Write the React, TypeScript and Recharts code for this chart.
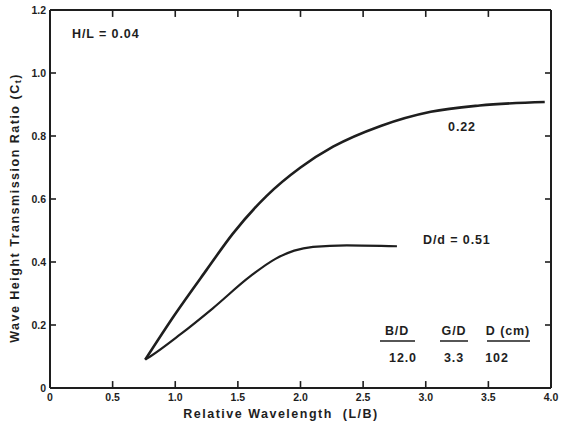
import React from "react";
import { LineChart, Line, XAxis, YAxis, ReferenceLine } from "recharts";

// curves: L/B vs Ct
const upperX = [0.76, 1.0, 1.25, 1.46, 1.73, 2.0, 2.26, 2.64, 3.04, 3.43, 3.95];
const upperY = [0.09, 0.235, 0.375, 0.49, 0.61, 0.7, 0.766, 0.832, 0.877, 0.897, 0.908];

const lowerX = [0.76, 0.8, 1.04, 1.3, 1.6, 1.8, 1.95, 2.1, 2.37, 2.77];
const lowerY = [0.09, 0.1, 0.17, 0.253, 0.355, 0.41, 0.436, 0.448, 0.453, 0.45];

const xTicks = [0, 0.5, 1.0, 1.5, 2.0, 2.5, 3.0, 3.5, 4.0];
const yTicks = [0, 0.2, 0.4, 0.6, 0.8, 1.0, 1.2];

const upper = upperX.map((x, i) => ({ x, y: upperY[i] }));
const lower = lowerX.map((x, i) => ({ x, y: lowerY[i] }));

const ink = "#1e1e1e";
const font = "'Liberation Sans', Arial, sans-serif";
const M = 14;
// inward tick length in data units (~6px)
const TX = 0.048;
const TY = 0.022;

const fmt = (v: number) => (v === 0 ? "0" : v.toFixed(1));

const BottomTick = (p: any) => (
  <text x={p.x} y={p.y - M + 13} textAnchor="middle" fontSize={10.5} fontWeight={700} fill={ink} fontFamily={font}>
    {fmt(p.payload.value)}
  </text>
);
const LeftTick = (p: any) => (
  <text x={p.x + M - 4} y={p.y + 4} textAnchor="end" fontSize={10.5} fontWeight={700} fill={ink} fontFamily={font}>
    {fmt(p.payload.value)}
  </text>
);

export default function App() {
  return (
    <div style={{ position: "absolute", left: 0, top: 0, width: 561, height: 429, background: "#fff" }}>
      <LineChart width={561} height={429} margin={{ top: 0, right: 0, bottom: 0, left: 0 }}>
        <XAxis
          dataKey="x"
          type="number"
          domain={[0, 4]}
          ticks={xTicks}
          allowDataOverflow
          height={41}
          stroke={ink}
          strokeWidth={2}
          tickLine={false}
          tickSize={0}
          tickMargin={M}
          tick={BottomTick}
          interval={0}
        />
        <XAxis
          xAxisId="top"
          orientation="top"
          dataKey="x"
          type="number"
          domain={[0, 4]}
          ticks={xTicks}
          height={10}
          stroke={ink}
          strokeWidth={2}
          tickLine={false}
          tick={false}
        />
        <YAxis
          type="number"
          domain={[0, 1.2]}
          ticks={yTicks}
          width={50}
          stroke={ink}
          strokeWidth={2}
          tickLine={false}
          tickSize={0}
          tickMargin={M}
          tick={LeftTick}
          interval={0}
        />
        <YAxis
          yAxisId="right"
          orientation="right"
          type="number"
          domain={[0, 1.2]}
          ticks={yTicks}
          width={10}
          stroke={ink}
          strokeWidth={2}
          tickLine={false}
          tick={false}
        />
        {xTicks.slice(1, -1).map((t) => (
          <ReferenceLine key={"b" + t} segment={[{ x: t, y: 0 }, { x: t, y: TY }]} stroke={ink} strokeWidth={1.6} />
        ))}
        {xTicks.slice(1, -1).map((t) => (
          <ReferenceLine key={"t" + t} segment={[{ x: t, y: 1.2 }, { x: t, y: 1.2 - TY }]} stroke={ink} strokeWidth={1.6} />
        ))}
        {yTicks.slice(1, -1).map((t) => (
          <ReferenceLine key={"l" + t} segment={[{ x: 0, y: t }, { x: TX, y: t }]} stroke={ink} strokeWidth={1.6} />
        ))}
        {yTicks.slice(1, -1).map((t) => (
          <ReferenceLine key={"r" + t} segment={[{ x: 4, y: t }, { x: 4 - TX, y: t }]} stroke={ink} strokeWidth={1.6} />
        ))}
        <Line
          data={upper}
          dataKey="y"
          type="monotone"
          stroke={ink}
          strokeWidth={2.6}
          dot={false}
          isAnimationActive={false}
        />
        <Line
          data={lower}
          dataKey="y"
          type="monotone"
          stroke={ink}
          strokeWidth={2.2}
          dot={false}
          isAnimationActive={false}
        />
      </LineChart>
      <svg
        width={561}
        height={429}
        style={{ position: "absolute", left: 0, top: 0, pointerEvents: "none" }}
        fontFamily={font}
        fontWeight={700}
        fill={ink}
      >
        <text x={15} y={208} fontSize={12.5} letterSpacing={1.5} textAnchor="middle" dominantBaseline="central" transform="rotate(-90 15 208)">
          Wave Height Transmission Ratio (C<tspan fontSize={9} dy={3}>t</tspan><tspan dy={-3}>)</tspan>
        </text>
        <text x={281} y={414} fontSize={12.5} letterSpacing={1.5} textAnchor="middle" dominantBaseline="central">
          Relative Wavelength{"\u00a0\u00a0"}(L/B)
        </text>
        <g fontSize={12.5} letterSpacing={0.9} dominantBaseline="central">
          <text x={72} y={34}>H/L = 0.04</text>
          <text x={462} y={127} textAnchor="middle">0.22</text>
          <text x={423} y={240}>D/d = 0.51</text>
          <text x={397} y={331} textAnchor="middle">B/D</text>
          <text x={454} y={331} textAnchor="middle">G/D</text>
          <text x={508} y={331} textAnchor="middle">D (cm)</text>
          <text x={403} y={358} textAnchor="middle">12.0</text>
          <text x={454} y={358} textAnchor="middle">3.3</text>
          <text x={497} y={358} textAnchor="middle">102</text>
        </g>
        <line x1={380} x2={415} y1={341} y2={341} stroke={ink} strokeWidth={1.5} />
        <line x1={440} x2={468} y1={341} y2={341} stroke={ink} strokeWidth={1.5} />
        <line x1={487} x2={530} y1={341} y2={341} stroke={ink} strokeWidth={1.5} />
      </svg>
    </div>
  );
}
